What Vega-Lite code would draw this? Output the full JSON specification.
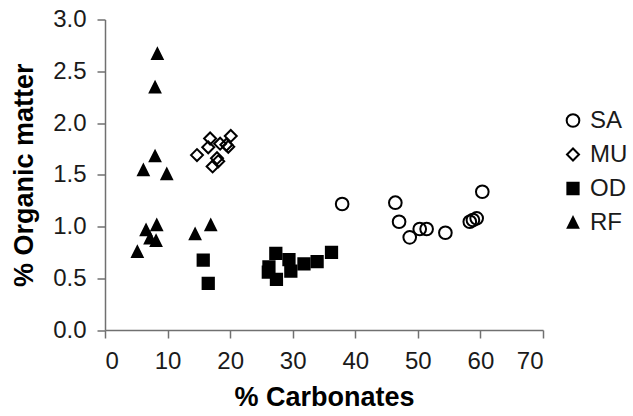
{
  "$schema": "https://vega.github.io/schema/vega-lite/v6.json",
  "width": 438,
  "height": 310.5,
  "autosize": {"type": "none"},
  "padding": {"left": 105, "top": 19.5, "right": 90, "bottom": 86},
  "background": "white",
  "config": {
    "view": {"stroke": null},
    "font": "Liberation Sans",
    "axis": {
      "grid": false,
      "domainColor": "#707070",
      "domainWidth": 1.5,
      "tickColor": "#707070",
      "tickWidth": 1.5,
      "tickSize": 8,
      "labelFont": "Liberation Sans",
      "labelFontSize": 24,
      "labelColor": "#1a1a1a",
      "labelPadding": 11,
      "titleFont": "Liberation Sans",
      "titleFontSize": 27,
      "titleFontWeight": "bold",
      "titleColor": "#000000",
      "titlePadding": 11
    },
    "axisY": {"titlePadding": 14},
    "legend": {
      "labelFont": "Liberation Sans",
      "labelFontSize": 24,
      "labelColor": "#1a1a1a",
      "symbolStrokeWidth": 2,
      "padding": 0,
      "rowPadding": 10,
      "labelOffset": 5
    }
  },
  "data": {
    "values": [
      {"group": "SA", "carb": 37.9, "om": 1.217},
      {"group": "SA", "carb": 46.4, "om": 1.23},
      {"group": "SA", "carb": 47.0, "om": 1.046},
      {"group": "SA", "carb": 48.7, "om": 0.895},
      {"group": "SA", "carb": 50.3, "om": 0.976},
      {"group": "SA", "carb": 51.4, "om": 0.976},
      {"group": "SA", "carb": 54.4, "om": 0.94},
      {"group": "SA", "carb": 58.3, "om": 1.046},
      {"group": "SA", "carb": 58.8, "om": 1.063},
      {"group": "SA", "carb": 59.4, "om": 1.079},
      {"group": "SA", "carb": 60.3, "om": 1.336},
      {"group": "MU", "carb": 14.7, "om": 1.69},
      {"group": "MU", "carb": 16.8, "om": 1.85},
      {"group": "MU", "carb": 16.5, "om": 1.765},
      {"group": "MU", "carb": 17.2, "om": 1.58},
      {"group": "MU", "carb": 17.9, "om": 1.66},
      {"group": "MU", "carb": 18.4, "om": 1.8},
      {"group": "MU", "carb": 19.4, "om": 1.79},
      {"group": "MU", "carb": 20.1, "om": 1.875},
      {"group": "MU", "carb": 19.7, "om": 1.77},
      {"group": "MU", "carb": 18.1, "om": 1.63},
      {"group": "OD", "carb": 15.7, "om": 0.676},
      {"group": "OD", "carb": 16.5, "om": 0.45},
      {"group": "OD", "carb": 27.3, "om": 0.74},
      {"group": "OD", "carb": 26.2, "om": 0.61},
      {"group": "OD", "carb": 26.1, "om": 0.56},
      {"group": "OD", "carb": 27.4, "om": 0.49},
      {"group": "OD", "carb": 29.4, "om": 0.68},
      {"group": "OD", "carb": 29.7, "om": 0.57},
      {"group": "OD", "carb": 31.8, "om": 0.64},
      {"group": "OD", "carb": 33.9, "om": 0.66},
      {"group": "OD", "carb": 36.2, "om": 0.75},
      {"group": "RF", "carb": 8.37, "om": 2.67},
      {"group": "RF", "carb": 8.0, "om": 2.345},
      {"group": "RF", "carb": 8.0, "om": 1.68},
      {"group": "RF", "carb": 6.13, "om": 1.546},
      {"group": "RF", "carb": 9.87, "om": 1.507},
      {"group": "RF", "carb": 8.27, "om": 1.014},
      {"group": "RF", "carb": 6.56, "om": 0.966},
      {"group": "RF", "carb": 7.2, "om": 0.886},
      {"group": "RF", "carb": 8.16, "om": 0.863},
      {"group": "RF", "carb": 5.17, "om": 0.757},
      {"group": "RF", "carb": 14.4, "om": 0.928},
      {"group": "RF", "carb": 16.9, "om": 1.014}
    ]
  },
  "mark": {"type": "point", "filled": true, "strokeWidth": 2, "opacity": 1, "fillOpacity": 1, "strokeOpacity": 1},
  "encoding": {
    "x": {
      "field": "carb", "type": "quantitative",
      "title": "% Carbonates",
      "scale": {"domain": [0, 70], "nice": false, "zero": true},
      "axis": {"values": [0, 10, 20, 30, 40, 50, 60, 70], "format": "d"}
    },
    "y": {
      "field": "om", "type": "quantitative",
      "title": "% Organic matter",
      "scale": {"domain": [0, 3], "nice": false},
      "axis": {"values": [0, 0.5, 1, 1.5, 2, 2.5, 3], "format": ".1f"}
    },
    "shape": {
      "field": "group", "type": "nominal",
      "scale": {"domain": ["SA", "MU", "OD", "RF"], "range": ["circle", "diamond", "square", "M0,-1L1,1L-1,1Z"]},
      "legend": {"title": null, "orient": "none", "legendX": 456, "legendY": 89}
    },
    "size": {
      "field": "group", "type": "nominal",
      "scale": {"domain": ["SA", "MU", "OD", "RF"], "range": [160, 110, 196, 230]},
      "legend": {"title": null, "orient": "none", "legendX": 456, "legendY": 89}
    },
    "fill": {
      "field": "group", "type": "nominal",
      "scale": {"domain": ["SA", "MU", "OD", "RF"], "range": ["transparent", "transparent", "black", "black"]},
      "legend": {"title": null, "orient": "none", "legendX": 456, "legendY": 89}
    },
    "stroke": {
      "field": "group", "type": "nominal",
      "scale": {"domain": ["SA", "MU", "OD", "RF"], "range": ["black", "black", "black", "black"]},
      "legend": {"title": null, "orient": "none", "legendX": 456, "legendY": 89}
    }
  }
}
